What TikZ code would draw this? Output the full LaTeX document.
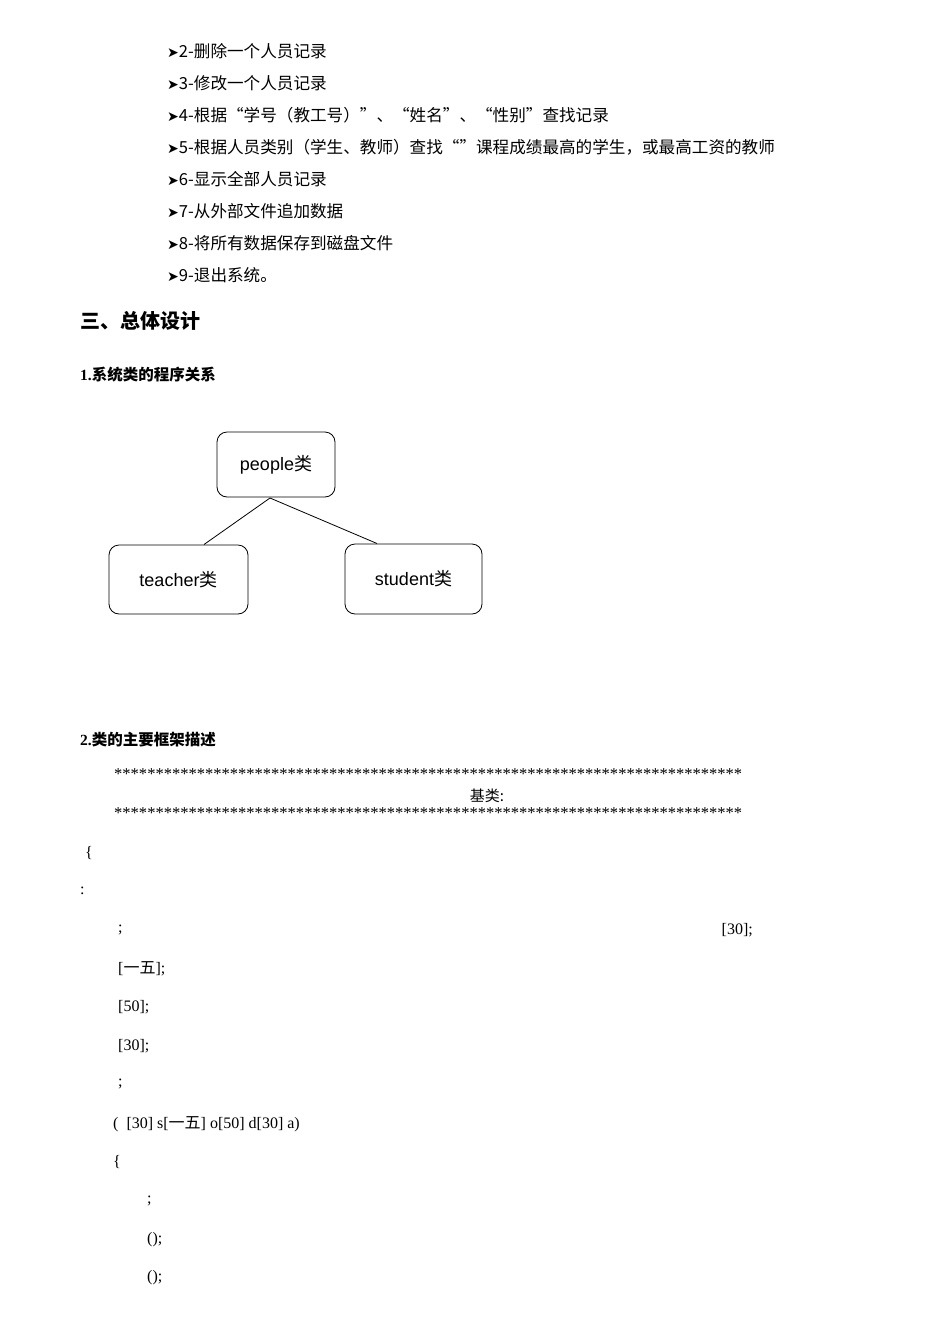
\documentclass[tikz,border=0pt]{standalone}
\usepackage{fontspec}
\usepackage{graphicx}
\setmainfont{Liberation Serif}
\newfontfamily\cjk{Noto Sans CJK SC}
\newfontfamily\sansf{Liberation Sans}
\newfontfamily\dvs{DejaVu Sans}
\newcommand{\arr}{{\dvs\fontsize{14}{14}\selectfont ➤}}
\tikzset{
  li/.style={anchor=west,inner sep=0pt,font=\fontsize{16.6}{16}\selectfont\cjk},
  code/.style={anchor=west,inner sep=0pt,font=\fontsize{16}{16}\selectfont},
  cls/.style={draw,rounded corners=10pt,line width=0.8pt,font=\fontsize{18}{18}\selectfont\sansf},
}
\begin{document}
\begin{tikzpicture}[x=1pt,y=-1pt]
\useasboundingbox (0,0) rectangle (950,1344);
\node[li] (l2) at (167,51) {\arr 2-删除一个人员记录};
\node[li] (l3) at (167,83) {\arr 3-修改一个人员记录};
\node[li] (l4) at (167,115) {\arr 4-根据“学号（教工号）”、“姓名”、“性别”查找记录};
\node[li] (l5) at (167,147) {\arr 5-根据人员类别（学生、教师）查找“”课程成绩最高的学生，或最高工资的教师};
\node[li] (l6) at (167,179) {\arr 6-显示全部人员记录};
\node[li] (l7) at (167,211) {\arr 7-从外部文件追加数据};
\node[li] (l8) at (167,243) {\arr 8-将所有数据保存到磁盘文件};
\node[li] (l9) at (167,275) {\arr 9-退出系统。};
\node[anchor=west,inner sep=0pt,font=\fontsize{20}{20}\selectfont\cjk\bfseries] (h3) at (80,321) {三、总体设计};
\node[anchor=west,inner sep=0pt,font=\fontsize{15.5}{15}\selectfont\bfseries] (h1) at (80,375) {1.{\cjk 系统类的程序关系}};
\node[cls,minimum width=118pt,minimum height=65pt] (people) at (276,464.5) {people{\cjk 类}};
\node[cls,minimum width=139pt,minimum height=69pt] (teacher) at (178.5,579.5) {teacher{\cjk 类}};
\node[cls,minimum width=137pt,minimum height=70pt] (student) at (413.5,579) {student{\cjk 类}};
\coordinate (j) at (270,498);
\draw[line width=0.8pt] (j) -- (204,544.5);
\draw[line width=0.8pt] (j) -- (377,543.5);
\node[anchor=west,inner sep=0pt,font=\fontsize{15.5}{15}\selectfont\bfseries] (h2) at (80,740) {2.{\cjk 类的主要框架描述}};
\node[anchor=west,inner sep=0pt] (s1) at (114,774) {\resizebox{628pt}{!}{\fontsize{12}{12}\selectfont ****************************************************************************}};
\node[inner sep=0pt,font=\fontsize{15}{15}\selectfont\cjk] (base) at (487,796) {基类:};
\node[anchor=west,inner sep=0pt] (s2) at (114,813) {\resizebox{628pt}{!}{\fontsize{12}{12}\selectfont ****************************************************************************}};
\node[code] (c1) at (85,853) {\{};
\node[code] (c2) at (80,891) {:};
\node[code] (c3) at (118,930) {;};
\node[code,anchor=east] (c3b) at (753,930) {[30];};
\node[code] (c4) at (118,969) {[{\cjk 一五}];};
\node[code] (c5) at (118,1007) {[50];};
\node[code] (c6) at (118,1046) {[30];};
\node[code] (c7) at (118,1084) {;};
\node[code] (c8) at (113,1124) {(\ \ [30] s[{\cjk 一五}] o[50] d[30] a)};
\node[code] (c9) at (113,1162) {\{};
\node[code] (c10) at (147,1201) {;};
\node[code] (c11) at (147,1240) {();};
\node[code] (c12) at (147,1278) {();};
\end{tikzpicture}
\end{document}
